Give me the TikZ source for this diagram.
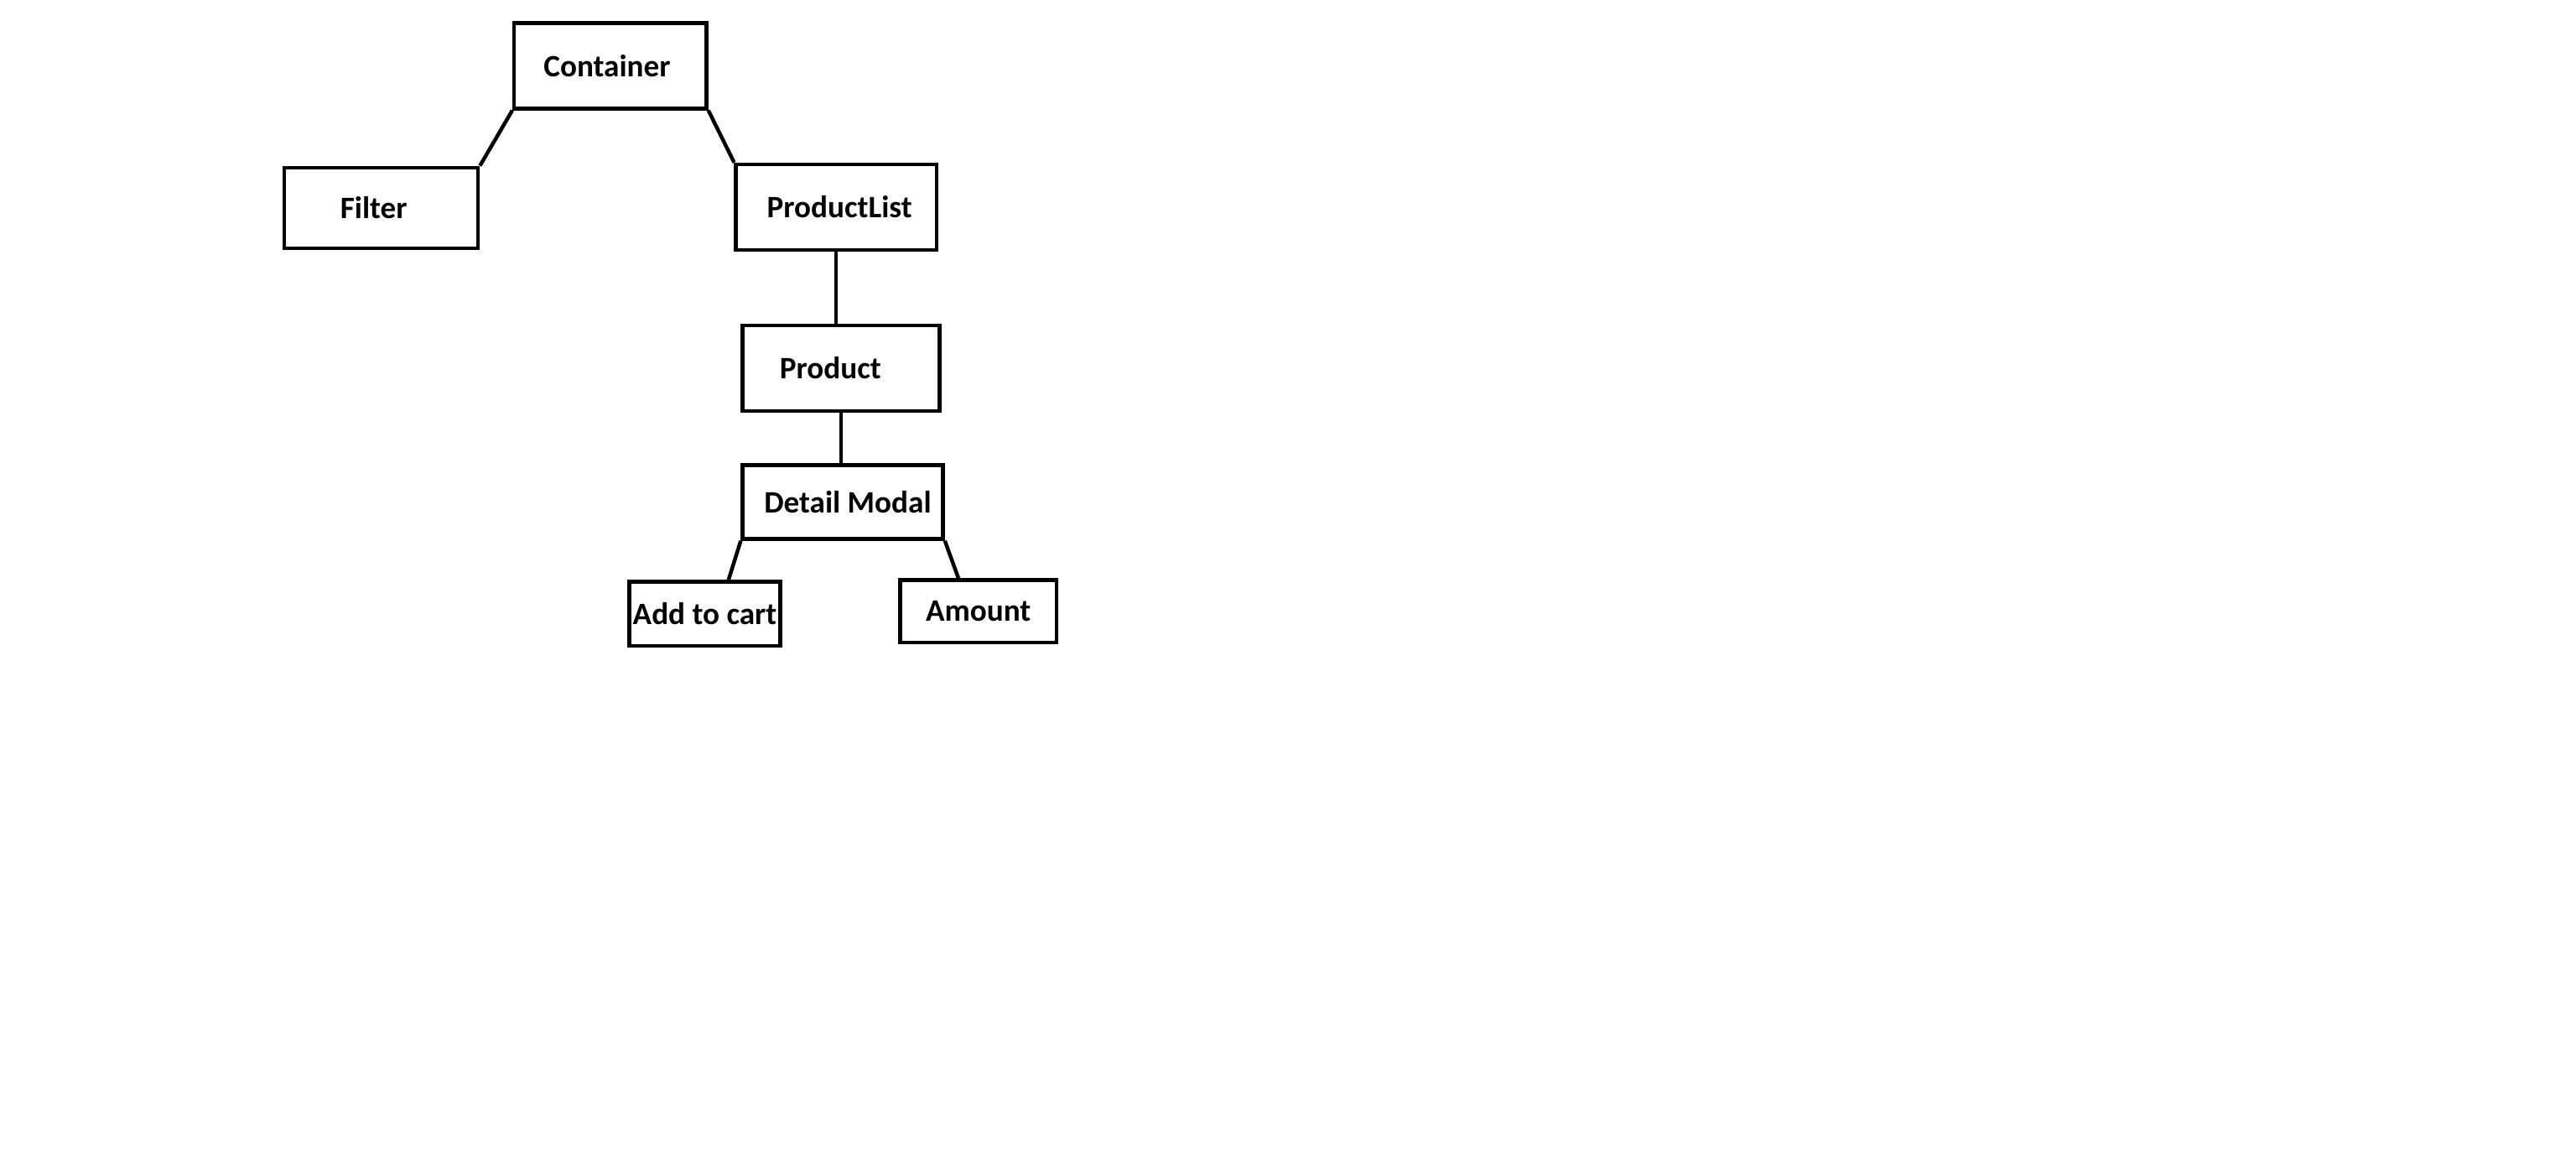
\documentclass[tikz,border=0pt]{standalone}
\usepackage{fontspec}
\setmainfont{Carlito}
\usetikzlibrary{positioning}

\begin{document}
\begin{tikzpicture}[x=0.02cm, y=-0.02cm, line width=1.3pt]
    \tikzset{
      comp/.style={
        draw, rectangle, inner sep=0pt, font=\bfseries\fontsize{10.8}{12}\selectfont,
      }
    }
    \useasboundingbox (0,0) rectangle (1568,699.3);
    % components
    \foreach \name/\x/\y/\w/\h/\dx/\label in {container/371.5/40/117/52/-2/Container, filter/232/126.5/118/49/-4.5/Filter,
        productlist/509/126/122/52/2/ProductList, product/512/224/120/52/-6.5/Product,
        detailmodal/513/305.5/122/45/3/Detail Modal, addcart/429/373.5/92/39/0/Add to cart,
        amount/595.5/372/95/38/0/Amount} {
      \pgfmathsetmacro\sh{-0.04*\dx}
      \node (\name) [comp, minimum width=\w*0.02cm, minimum height=\h*0.02cm] at (\x,\y) {\label\hspace*{\sh cm}};
    }
    % % links
    \foreach \from/\to in {container.south west/filter.north east, container.south east/productlist.north west,
        productlist.south/productlist.south |- product.north, product.south/product.south |- detailmodal.north,
        detailmodal.south west/addcart.55, detailmodal.south east/amount.121} {
      \draw (\from) -- (\to);
    }

\end{tikzpicture}
\end{document}
